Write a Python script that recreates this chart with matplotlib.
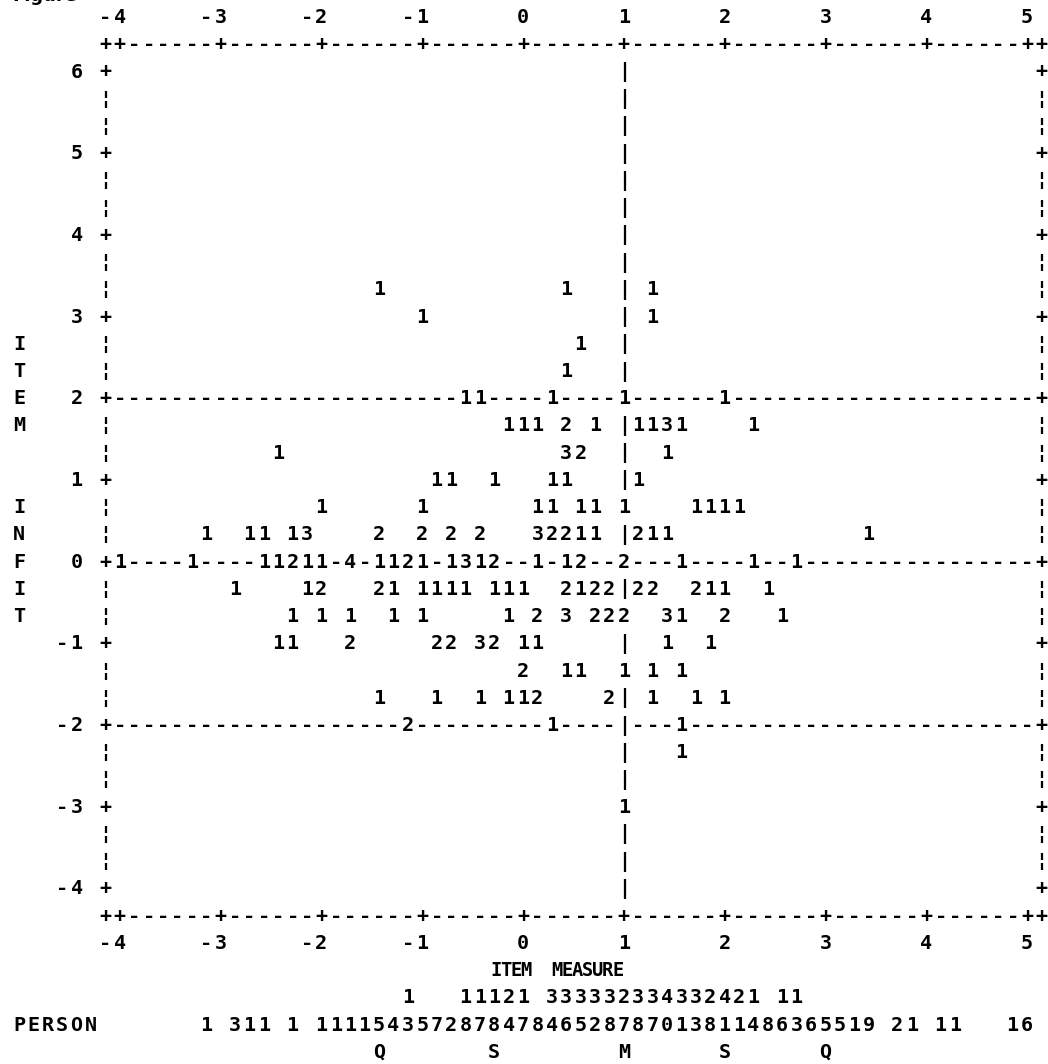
import matplotlib
matplotlib.use("Agg")
import matplotlib.pyplot as plt

# ---------------- data ----------------
x_ticks = [-4, -3, -2, -1, 0, 1, 2, 3, 4, 5]
y_ticks = [6, 5, 4, 3, 2, 1, 0, -1, -2, -3, -4]
x_title = "ITEM  MEASURE"
y_title = "ITEM  INFIT"
ref_x = 1.0            # vertical reference line (item measure)
ref_y = [2, 0, -2]     # horizontal reference lines (infit)

# item points: measure, infit, number of items at that plotting position
item_measure = [
    -1.43, 0.43, 1.29,                                   # 3.33
    -1.00, 1.29,                                         # 3.00
    0.57,                                                # 2.67
    0.43,                                                # 2.33
    -0.57, -0.43, 0.29, 1.00, 2.00,                      # 2.00
    -0.14, 0.00, 0.14, 0.43, 0.71, 1.14, 1.29, 1.43, 1.57, 2.29,   # 1.67
    -2.43, 0.43, 0.57, 1.43,                             # 1.33
    -0.86, -0.71, -0.29, 0.29, 0.43, 1.14,               # 1.00
    -2.00, -1.00, 0.14, 0.29, 0.57, 0.71, 1.00, 1.71, 1.86, 2.00, 2.14,  # 0.67
    -3.14, -2.71, -2.57, -2.29, -2.14, -1.43, -1.00, -0.71, -0.43, 0.14,
    0.29, 0.43, 0.57, 0.71, 1.14, 1.29, 1.43, 3.43,      # 0.33
    -4.00, -3.29, -2.57, -2.43, -2.29, -2.14, -2.00, -1.71, -1.43, -1.29,
    -1.14, -1.00, -0.71, -0.57, -0.43, -0.29, 0.14, 0.43, 0.57, 1.00,
    1.57, 2.29, 2.71,                                    # 0.00
    -2.86, -2.14, -2.00, -1.43, -1.29, -1.00, -0.86, -0.71, -0.57, -0.29,
    -0.14, 0.00, 0.43, 0.57, 0.71, 0.86, 1.14, 1.29, 1.71, 1.86,
    2.00, 2.43,                                          # -0.33
    -2.29, -2.00, -1.71, -1.29, -1.00, -0.14, 0.14, 0.43, 0.71, 0.86,
    1.00, 1.43, 1.57, 2.00, 2.57,                        # -0.67
    -2.43, -2.29, -1.71, -0.86, -0.71, -0.43, -0.29, 0.00, 0.14, 1.43, 1.86,  # -1.00
    0.00, 0.43, 0.57, 1.00, 1.29, 1.57,                  # -1.33
    -1.43, -0.86, -0.43, -0.14, 0.00, 0.14, 0.86, 1.29, 1.71, 2.00,  # -1.67
    -1.14, 0.29, 1.57,                                   # -2.00
    1.57,                                                # -2.33
    1.00,                                                # -3.00
]
item_infit = (
    [3.33] * 3 + [3.00] * 2 + [2.67] * 1 + [2.33] * 1 + [2.00] * 5 +
    [1.67] * 10 + [1.33] * 4 + [1.00] * 6 + [0.67] * 11 + [0.33] * 18 +
    [0.00] * 23 + [-0.33] * 22 + [-0.67] * 15 + [-1.00] * 11 + [-1.33] * 6 +
    [-1.67] * 10 + [-2.00] * 3 + [-2.33] * 1 + [-3.00] * 1
)
item_count = [
    1, 1, 1,
    1, 1,
    1,
    1,
    1, 1, 1, 1, 1,
    1, 1, 1, 2, 1, 1, 1, 3, 1, 1,
    1, 3, 2, 1,
    1, 1, 1, 1, 1, 1,
    1, 1, 1, 1, 1, 1, 1, 1, 1, 1, 1,
    1, 1, 1, 1, 3, 2, 2, 2, 2, 3, 2, 2, 1, 1, 2, 1, 1, 1,
    1, 1, 1, 1, 2, 1, 1, 4, 1, 1, 2, 1, 1, 3, 1, 2, 1, 1, 2, 2, 1, 1, 1,
    1, 1, 2, 2, 1, 1, 1, 1, 1, 1, 1, 1, 2, 1, 2, 2, 2, 2, 2, 1, 1, 1,
    1, 1, 1, 1, 1, 1, 2, 3, 2, 2, 2, 3, 1, 2, 1,
    1, 1, 2, 2, 2, 3, 2, 1, 1, 1, 1,
    2, 1, 1, 1, 1, 1,
    1, 1, 1, 1, 1, 2, 2, 1, 1, 1,
    2, 1, 1,
    1,
    1,
]

# person distribution along the measure axis
person_label = "PERSON"
person_measure = [
    -3.14, -2.86, -2.71, -2.57, -2.29,
    -2.00, -1.86, -1.71, -1.57, -1.43, -1.29, -1.14, -1.00, -0.86, -0.71,
    -0.57, -0.43, -0.29, -0.14, 0.00, 0.14, 0.29, 0.43, 0.57, 0.71,
    0.86, 1.00, 1.14, 1.29, 1.43, 1.57, 1.71, 1.86, 2.00, 2.14,
    2.29, 2.43, 2.57, 2.71, 2.86, 3.00, 3.14, 3.29, 3.43,
    3.71, 3.86, 4.14, 4.29, 4.86, 5.00,
]
person_count = [
    1, 3, 1, 1, 1,
    1, 1, 1, 1, 5, 4, 13, 5, 7, 2,
    18, 17, 18, 24, 17, 8, 34, 36, 35, 32,
    38, 27, 38, 37, 40, 31, 33, 28, 41, 21,
    14, 8, 16, 13, 6, 5, 5, 1, 9,
    2, 1, 1, 1, 1, 6,
]
person_marker_measure = [-1.43, -0.29, 1.00, 2.00, 3.00]
person_marker_label = ["Q", "S", "M", "S", "Q"]

# ---------------- character-grid geometry ----------------
W, H = 1048, 1064
CPU, RPU = 7, 3                  # text columns / rows per unit
LEFT = 7                         # text column of the first x tick
PX_COL0, PX_CW = 19.0, 14.4      # pixel centre of column 0, column width
PX_ROW0, PX_RH = 72.0, 27.23     # pixel centre of row 0 (top y tick), row height


def col_of(m):
    return LEFT + int(round(CPU * (m - x_ticks[0])))


def row_of(y):
    return int(round(RPU * (y_ticks[0] - y)))


RIGHT = col_of(x_ticks[-1])
NROW = row_of(y_ticks[-1])

grid = {}


def put(row, col, s):
    for i, ch in enumerate(s):
        if ch != " ":
            grid[(row, col + i)] = ch
        else:
            grid.pop((row, col + i), None)


tick_cols = {col_of(t): t for t in x_ticks}


def axis_line(row):
    put(row, LEFT - 1, "+")
    for c in range(LEFT, RIGHT + 1):
        put(row, c, "+" if c in tick_cols else "-")
    put(row, RIGHT + 1, "+")


def tick_labels(row):
    for c, t in tick_cols.items():
        lab = str(t)
        put(row, c - len(lab) + 1, lab)


tick_labels(-2)
axis_line(-1)
axis_line(NROW + 1)
tick_labels(NROW + 2)

for r in range(0, NROW + 1):
    on_tick = (r % RPU == 0)
    put(r, LEFT - 1, "+" if on_tick else "\u00a6")
    put(r, RIGHT + 1, "+" if on_tick else "\u00a6")
    if on_tick:
        lab = str(y_ticks[0] - r // RPU)
        put(r, LEFT - 2 - len(lab), lab)

for yv in ref_y:
    r = row_of(yv)
    for c in range(LEFT, RIGHT + 1):
        put(r, c, "-")

vc = col_of(ref_x)
for r in range(0, NROW + 1):
    put(r, vc, "|")

for m, yv, n in zip(item_measure, item_infit, item_count):
    put(row_of(yv), col_of(m), str(n))

# vertical y title, centred on the plot rows
ty0 = NROW // 2 - len(y_title) // 2
for i, ch in enumerate(y_title):
    put(ty0 + i, 0, ch)

# person distribution (tens digit on the line above)
put(NROW + 5, 0, person_label)
for m, n in zip(person_measure, person_count):
    c = col_of(m)
    put(NROW + 5, c, str(n % 10))
    if n >= 10:
        put(NROW + 4, c, str(n // 10))
for m, lab in zip(person_marker_measure, person_marker_label):
    put(NROW + 6, col_of(m), lab)

# ---------------- drawing ----------------
fig = plt.figure(figsize=(W / 100, H / 100), dpi=100)
fig.patch.set_facecolor("white")
ax = fig.add_axes([0, 0, 1, 1])
ax.axis("off")


def m_at(px):
    return x_ticks[0] + ((px - PX_COL0) / PX_CW - LEFT) / CPU


def y_at(py):
    return y_ticks[0] - ((py - PX_ROW0) / PX_RH) / RPU


ax.set_xlim(m_at(0), m_at(W))
ax.set_ylim(y_at(H), y_at(0))


def cell(c, r):
    return x_ticks[0] + (c - LEFT) / CPU, y_ticks[0] - r / RPU


font = dict(family=["DejaVu Sans Mono"], weight="bold",
            size=14.5, color="black", ha="center", va="center")
for (r, c), ch in grid.items():
    ax.text(*cell(c, r), ch, **font)

# x title: set tighter than the grid text
tx, ty = cell(34, NROW + 3)
step = 10.2 / PX_CW / CPU
for i, ch in enumerate(x_title):
    if ch != " ":
        ax.text(tx - 0.9 / CPU + i * step, ty, ch, family=["DejaVu Sans Mono"],
                weight="bold", size=13.5, color="black", ha="center", va="center")

# figure caption cut off by the top edge of the picture
ax.text(0.012, 0.999, "Figure", transform=fig.transFigure, family=["DejaVu Sans"],
        weight="bold", size=13, color="black", ha="left", va="baseline")

fig.savefig("out.png", dpi=100, facecolor="white")
